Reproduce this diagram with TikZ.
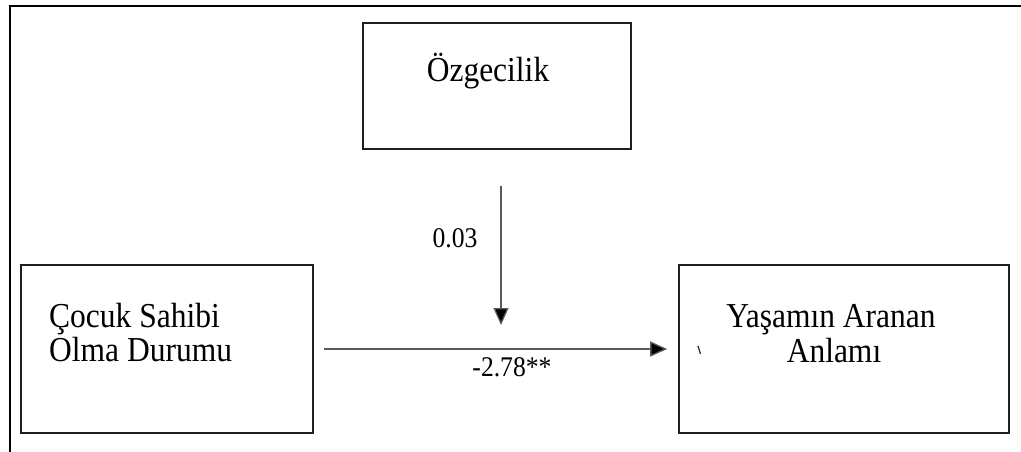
\documentclass[tikz,border=0pt]{standalone}
\usepackage{fontspec}
\setmainfont[FakeStretch=0.9]{Liberation Serif}
\usetikzlibrary{arrows.meta}
\tikzset{
  box/.style={draw=black!88, line width=1.6pt, inner sep=0pt},
  lbl/.style={inner sep=0pt, anchor=base, font=\fontsize{35}{38}\selectfont},
  num/.style={inner sep=0pt, anchor=base, font=\fontsize{28.5}{32}\selectfont},
  arr/.style={draw=black!65, line width=1.3pt, -{Triangle[length=17pt,width=15pt,fill=black]}},
  frame/.style={draw=black, line width=2pt}
}
\begin{document}
\begin{tikzpicture}[x=1pt,y=-1pt]
\useasboundingbox (0,0) rectangle (1021,452);
\draw[frame] (10,452) -- (10,6) -- (1021,6);
% boxes
\node[box, minimum width=268pt, minimum height=126pt] (oz) at (497,86) {};
\node[box, minimum width=292pt, minimum height=168pt] (cocuk) at (167,349) {};
\node[box, minimum width=330pt, minimum height=168pt] (yasam) at (844,349) {};
% texts
\node[lbl] (tOz) at (488,82) {Özgecilik};
\node[lbl, anchor=base west] (tC1) at (49,327) {Çocuk Sahibi};
\node[lbl, anchor=base west] (tC2) at (49,361) {Olma Durumu};
\node[lbl] (tY1) at (831,327) {Yaşamın Aranan};
\node[lbl] (tY2) at (834,362) {Anlamı};
\node[num] (l003) at (455,247) {0.03};
\node[num] (l278) at (512,376) {-2.78**};
% connectors
\coordinate (mid) at (501,349);
\draw[arr, shorten <=10pt, shorten >=11pt] (cocuk.east) -- (yasam.west);
\draw[arr, shorten <=36pt, shorten >=24pt] ([xshift=4pt]oz.south) -- (mid);
% stray tick mark
\draw[line width=1.3pt, black!80] (698,346) -- (700.5,354);
\end{tikzpicture}
\end{document}
